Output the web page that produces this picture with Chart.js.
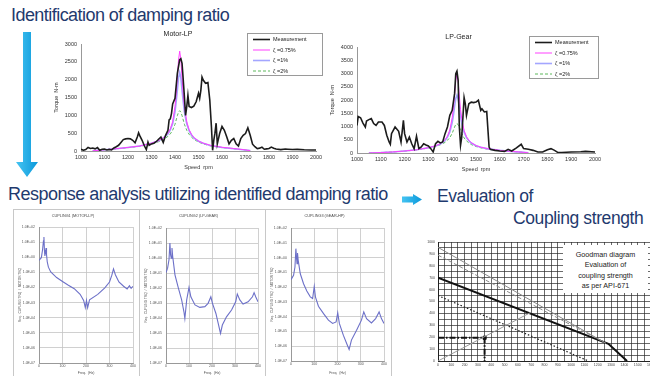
<!DOCTYPE html>
<html><head><meta charset="utf-8">
<script src="https://cdn.jsdelivr.net/npm/chart.js@4.4.1/dist/chart.umd.min.js"></script>
<style>
html,body{margin:0;padding:0;background:#fff;width:650px;height:376px;overflow:hidden;position:relative;font-family:"Liberation Sans",Arial,sans-serif;}
.h{position:absolute;color:#1F3A6E;white-space:nowrap;line-height:1;}
.panel{position:absolute;border:1px solid #c8c8c8;box-sizing:border-box;}
canvas{position:absolute;}
#gmtext{position:absolute;left:563px;top:245px;width:85px;height:48px;background:#fff;font-size:7.2px;line-height:10.3px;color:#222;text-align:center;padding-top:5px;box-sizing:border-box;}
</style></head><body>

<div class="h" style="left:11px;top:5.5px;font-size:18px;letter-spacing:-0.55px;">Identification of damping ratio</div>
<div class="h" style="left:8px;top:185px;font-size:18px;letter-spacing:-0.53px;">Response analysis utilizing identified damping ratio</div>
<div class="h" style="left:437px;top:188px;font-size:17.5px;letter-spacing:-0.4px;">Evaluation of</div>
<div class="h" style="left:513px;top:209.5px;font-size:17.5px;letter-spacing:-0.4px;">Coupling strength</div>

<svg style="position:absolute;left:0;top:0" width="650" height="376">
  <defs>
    <linearGradient id="gv" x1="0" y1="0" x2="1" y2="0">
      <stop offset="0" stop-color="#45c4f2"/><stop offset="1" stop-color="#0b98da"/>
    </linearGradient>
  </defs>
  <polygon points="23,32 31,32 31,162 38,162 27,177 16,162 23,162" fill="url(#gv)"/>
  <polygon points="402,196.5 413,196.5 413,194 422,199.5 413,205 413,202.5 402,202.5" fill="url(#gv)"/>
</svg>

<div class="panel" style="left:13px;top:209px;width:127px;height:170px;"></div>
<div class="panel" style="left:139px;top:209px;width:127px;height:170px;"></div>
<div class="panel" style="left:265px;top:209px;width:127px;height:170px;"></div>

<canvas id="c1" width="288" height="148" style="left:40px;top:28px"></canvas>
<canvas id="c2" width="285" height="147" style="left:322px;top:31px"></canvas>
<canvas id="r1" width="125" height="167" style="left:13px;top:209px"></canvas>
<canvas id="r2" width="126" height="167" style="left:139px;top:209px"></canvas>
<canvas id="r3" width="126" height="167" style="left:265px;top:209px"></canvas>
<canvas id="gm" width="240" height="144" style="left:420px;top:232px"></canvas>
<div id="gmtext">Goodman diagram<br>Evaluation of<br>coupling strength<br>as per API-671</div>

<script>
// ---------- DATA ----------
const motorSpeed = [1000,1010,1020,1030,1040,1050,1060,1070,1080,1090,1100,1110,1120,1130,1140,1150,1160,1170,1180,1190,1200,1210,1220,1230,1240,1245,1250,1260,1270,1278,1285,1290,1300,1310,1320,1330,1340,1350,1360,1370,1375,1380,1385,1390,1400,1410,1420,1425,1430,1435,1440,1445,1450,1455,1460,1470,1480,1490,1500,1505,1510,1515,1520,1530,1540,1548,1555,1560,1565,1570,1575,1580,1590,1600,1610,1620,1630,1640,1650,1660,1670,1680,1690,1700,1710,1720,1730,1740,1750,1760,1770,1780,1790,1800,1810,1820,1830,1850,1870,1880,1900,1920,1950,1980,2000];
const motorTorque = [50,20,40,100,70,85,60,95,20,50,55,30,45,30,85,120,160,240,320,340,350,340,300,230,400,510,430,300,140,40,250,160,200,220,260,330,390,240,440,580,870,900,1050,1320,1480,2180,2560,2590,2460,2000,1520,1000,1240,1560,1250,1220,1260,1380,1620,1480,1700,2070,1990,1900,1920,1430,680,20,300,500,780,200,490,690,580,400,200,300,350,200,140,350,440,490,650,440,190,120,65,80,110,50,60,70,110,80,55,40,55,50,40,45,35,30,30];

const gearSpeed = [1000,1005,1015,1025,1035,1040,1050,1060,1070,1080,1090,1105,1115,1125,1135,1140,1145,1160,1175,1185,1195,1200,1210,1220,1230,1240,1250,1260,1270,1280,1290,1300,1310,1320,1330,1340,1350,1360,1370,1380,1390,1400,1410,1415,1420,1425,1430,1435,1440,1450,1455,1460,1470,1480,1490,1500,1510,1520,1525,1535,1545,1555,1560,1580,1600,1620,1635,1650,1670,1690,1700,1720,1740,1760,1780,1800,1815,1830,1845,1860,1900,1940,1960,2000];
const gearTorque = [1040,1380,1330,1130,980,1210,1260,1300,1110,1040,1170,1170,1040,670,415,330,730,980,820,415,1230,730,415,600,350,165,630,165,225,350,300,265,165,40,350,440,380,415,730,980,1420,1610,2240,2990,3090,2740,980,290,600,2090,1860,1420,1860,1920,1900,1920,1990,1610,1670,1550,1570,225,140,100,75,60,140,75,190,330,165,140,100,40,40,125,165,100,15,20,40,50,60,40];

const zetaSpeed = [1050,1100,1150,1200,1250,1300,1330,1350,1370,1380,1390,1400,1405,1410,1415,1420,1425,1430,1435,1440,1450,1460,1470,1480,1500,1520,1550,1600,1650,1700,1720];
const motorZeta075 = [5,35,65,100,140,220,290,370,500,620,820,1250,1600,2050,2550,2800,2550,2050,1600,1250,820,600,470,380,280,220,160,105,70,30,10];
const motorZeta1   = [5,35,65,100,140,215,285,360,480,590,760,1100,1380,1700,2050,2200,2050,1700,1380,1100,760,570,450,370,275,215,155,100,65,30,10];
const motorZeta2   = [5,30,60,95,130,200,260,320,410,480,580,750,870,990,1090,1130,1090,990,870,750,580,470,390,330,250,200,145,95,60,28,10];
const gearZeta075  = [0,15,40,75,120,200,270,350,500,640,870,1330,1700,2200,2750,2970,2700,2150,1650,1300,850,620,480,390,280,220,160,100,60,25,5];
const gearZeta1    = [0,15,40,75,120,195,265,340,470,600,790,1150,1420,1760,2060,2180,2040,1730,1400,1120,780,580,460,375,275,215,155,98,58,25,5];
const gearZeta2    = [0,14,38,72,115,185,250,310,400,480,580,740,860,980,1080,1110,1070,970,860,740,570,460,380,320,245,195,140,90,55,24,5];
const seriesLabels = ['Measurement','ζ =0.75%','ζ =1%','ζ =2%'];

const resp1Freq = [0,10,15,19,21,23,25,28,30,32,35,40,50,75,100,125,150,175,190,197,202,207,215,250,280,300,310,317,325,340,360,375,385,392,400];
const resp1Val  = [0.62,0.93,3,12,21.8,3,1.2,2.2,4.1,1.5,0.5,0.22,0.105,0.045,0.025,0.014,0.0083,0.0035,0.0014,0.00046,0.0014,0.00046,0.0015,0.0035,0.0095,0.023,0.065,0.17,0.07,0.023,0.012,0.008,0.013,0.0086,0.012];
const resp2Freq = [0,7,13,17,20,23,26,29,39,53,68,78,82,90,100,108,126,147,169,183,195,202,217,227,237,245,263,285,303,310,321,335,357,376,383,390,400];
const resp2Val  = [0.107,0.21,0.76,10,1.6,0.98,4.6,1.3,0.075,0.011,0.0016,0.00026,0.000093,0.0016,0.011,0.0026,0.00074,0.00051,0.00057,0.00095,0.0026,0.00095,0.0002,0.000043,0.0000093,0.000034,0.00012,0.00034,0.0012,0.004,0.0016,0.00085,0.0012,0.0026,0.0049,0.0026,0.0012];
const resp3Freq = [0,11,17,21,24,26,28,31,40,54,68,83,93,100,105,118,140,161,179,194,201,208,225,242,250,260,282,303,313,325,346,364,379,389,400];
const resp3Val  = [0.032,0.063,0.23,4,0.85,0.39,2,0.65,0.08,0.017,0.0055,0.0022,0.0017,0.011,0.0022,0.00051,0.00016,0.000058,0.000035,0.000044,0.00018,0.000035,0.0000056,0.0000012,0.0000006,0.0000026,0.000012,0.000058,0.00021,0.000074,0.000038,0.000074,0.00021,0.000074,0.000035];
const respTitles = ['CUPLING1 (MOTOR-LP)','CUPLING2 (LP-GEAR)','CUPLING3 (GEAR-HP)'];
const decadeTicks = [1e-7,1e-6,1e-5,1e-4,1e-3,1e-2,1e-1,1e0,1e1,1e2];

const gmAllowX = [0,1280,1420],  gmAllowY = [700,145,0];
const gmUpperX = [0,1260],       gmUpperY = [955,150];
const gmUpper2X = [0,1260],      gmUpper2Y = [890,150];
const gmLowerX = [0,1130],       gmLowerY = [550,0];
const gmLoadX  = [0,700],        gmLoadY  = [0,410];
const gmOperX  = [0,350,350],    gmOperY  = [195,195,0];
const gmPointX = [350],          gmPointY = [195];

// ---------- HELPERS ----------
Chart.defaults.font.family = '"Liberation Sans", Arial, sans-serif';
const pts = (xs, ys) => xs.map((x, i) => ({x, y: ys[i]}));
const plain = v => String(v);

const boxLegend = {
  id: 'boxLegend',
  afterDraw(chart, args, o) {
    if (!o || !o.box) return;
    const ctx = chart.ctx, b = o.box;
    ctx.save();
    ctx.fillStyle = '#fff'; ctx.fillRect(b.x, b.y, b.w, b.h);
    ctx.strokeStyle = '#9a9a9a'; ctx.lineWidth = 1; ctx.strokeRect(b.x + 0.5, b.y + 0.5, b.w, b.h);
    ctx.font = o.fontSize + 'px "Liberation Sans", Arial';
    ctx.textBaseline = 'middle';
    chart.data.datasets.forEach((ds, i) => {
      const y = b.y + o.top + i * o.gap;
      ctx.strokeStyle = ds.borderColor; ctx.lineWidth = ds.borderWidth;
      ctx.setLineDash(ds.borderDash || []);
      ctx.beginPath(); ctx.moveTo(b.x + o.lx0, y); ctx.lineTo(b.x + o.lx1, y); ctx.stroke();
      ctx.setLineDash([]);
      ctx.fillStyle = '#222';
      ctx.fillText(ds.label, b.x + o.tx, y);
    });
    ctx.restore();
  }
};

function topChart(id, title, mx, my, z1, z2, z3, yMax, yW, yTitlePad, box) {
  new Chart(document.getElementById(id), {
    type: 'line',
    data: { datasets: [
      {label: seriesLabels[0], data: pts(mx, my), borderColor: '#1c1c1c', borderWidth: 1.6},
      {label: seriesLabels[1], data: pts(zetaSpeed, z1), borderColor: '#ff40ff', borderWidth: 1},
      {label: seriesLabels[2], data: pts(zetaSpeed, z2), borderColor: '#a3a6ff', borderWidth: 1.6},
      {label: seriesLabels[3], data: pts(zetaSpeed, z3), borderColor: '#5cb85c', borderWidth: 1, borderDash: [3, 2]}
    ]},
    options: {
      responsive: false, animation: false,
      elements: {point: {radius: 0}, line: {tension: 0}},
      layout: {padding: {left: 0, right: 12, top: 0, bottom: 0}},
      plugins: {
        legend: {display: false}, tooltip: {enabled: false},
        title: {display: true, text: title, font: {size: 7, weight: 'normal'}, color: '#222', padding: {top: 2, bottom: 5.6}},
        boxLegend: {box: box, fontSize: 5.5, top: 6.5, gap: 10.5, lx0: 6, lx1: 23, tx: 26}
      },
      scales: {
        x: {type: 'linear', min: 1000, max: 2000,
            ticks: {stepSize: 100, font: {size: 5.5}, color: '#333', maxRotation: 0, autoSkip: false, padding: 3, callback: plain},
            grid: {display: false, drawTicks: false}, border: {display: true, color: '#999'},
            title: {display: true, text: 'Speed  rpm', font: {size: 5.5}, color: '#333', padding: {top: 0, bottom: 5.4}},
            afterFit: s => { s.height = 25; }},
        y: {type: 'linear', min: 0, max: yMax,
            ticks: {stepSize: 500, font: {size: 5.5}, color: '#333', padding: 4, callback: plain},
            grid: {display: false, drawTicks: false}, border: {display: true, color: '#999'},
            title: {display: true, text: 'Torque  N-m', font: {size: 5.5}, color: '#333', padding: {top: yTitlePad, bottom: 0}},
            afterFit: s => { s.width = yW; }}
      }
    },
    plugins: [boxLegend]
  });
}

const fmtE = v => { const e = Math.round(Math.log10(v)); return '1.0E' + (e < 0 ? '-' : '+') + String(Math.abs(e)).padStart(2, '0'); };

function respChart(id, title, xs, ys, yW, padR, xH, tPadB) {
  new Chart(document.getElementById(id), {
    type: 'line',
    data: { datasets: [{data: pts(xs, ys), borderColor: '#6c70c8', borderWidth: 1.1}] },
    options: {
      responsive: false, animation: false,
      elements: {point: {radius: 0}, line: {tension: 0}},
      layout: {padding: {left: 0, right: padR, top: 0, bottom: 0}},
      plugins: {
        legend: {display: false}, tooltip: {enabled: false},
        title: {display: true, text: title, font: {size: 3.8, weight: 'normal'}, color: '#444', padding: {top: 4.7, bottom: tPadB}}
      },
      scales: {
        x: {type: 'linear', min: 0, max: 400,
            ticks: {stepSize: 100, font: {size: 3.5}, color: '#555', maxRotation: 0, autoSkip: false, padding: 1, callback: plain},
            grid: {color: '#c4c4c4', lineWidth: 0.8, drawTicks: false}, border: {display: true, color: '#999'},
            title: {display: true, text: 'Freq.  (Hz)', font: {size: 3.5}, color: '#555', padding: {top: 0, bottom: 1}},
            afterFit: s => { s.height = xH; }},
        y: {type: 'logarithmic', min: 1e-7, max: 1e2,
            afterBuildTicks: s => { s.ticks = decadeTicks.map(v => ({value: v})); },
            ticks: {font: {size: 3.5}, color: '#555', padding: 4, autoSkip: false, callback: v => fmtE(v)},
            grid: {color: '#c4c4c4', lineWidth: 0.8, drawTicks: false}, border: {display: true, color: '#999'},
            title: {display: true, text: 'Req.  CUPLING TRQ  /  MOTOR TRQ', font: {size: 3.2}, color: '#555', padding: {top: 4.9, bottom: 0}},
            afterFit: s => { s.width = yW; }}
      }
    }
  });
}

// ---------- CHARTS ----------
topChart('c1', 'Motor-LP', motorSpeed, motorTorque, motorZeta075, motorZeta1, motorZeta2, 3000, 41, 12.7, {x: 207, y: 5, w: 75, h: 42});
topChart('c2', 'LP-Gear', gearSpeed, gearTorque, gearZeta075, gearZeta1, gearZeta2, 4000, 35, 6.7, {x: 207, y: 5, w: 69, h: 42});

respChart('r1', respTitles[0], resp1Freq, resp1Val, 26, 5, 13, 8.74);
respChart('r2', respTitles[1], resp2Freq, resp2Val, 27, 7, 13, 9.74);
respChart('r3', respTitles[2], resp3Freq, resp3Val, 26, 7, 15, 9.74);

new Chart(document.getElementById('gm'), {
  type: 'scatter',
  data: { datasets: [
    {data: pts(gmUpperX, gmUpperY), showLine: true, borderColor: '#8a8a8a', borderWidth: 1, pointRadius: 0},
    {data: pts(gmUpper2X, gmUpper2Y), showLine: true, borderColor: '#8a8a8a', borderWidth: 1, borderDash: [4, 2], pointRadius: 0},
    {data: pts(gmLoadX, gmLoadY), showLine: true, borderColor: '#9a9a9a', borderWidth: 1, pointRadius: 0},
    {data: pts(gmLowerX, gmLowerY), showLine: true, borderColor: '#222', borderWidth: 1.2, borderDash: [1.5, 2], pointRadius: 0},
    {data: pts(gmAllowX, gmAllowY), showLine: true, borderColor: '#111', borderWidth: 2, pointRadius: 0},
    {data: pts(gmOperX, gmOperY), showLine: true, borderColor: '#111', borderWidth: 2, borderDash: [6, 2, 1.5, 2], pointRadius: 0},
    {data: pts(gmPointX, gmPointY), showLine: false, pointStyle: 'rect', pointRadius: 2.2, backgroundColor: '#111', borderColor: '#111'}
  ]},
  options: {
    responsive: false, animation: false,
    layout: {padding: {left: 0, right: 9, top: 10, bottom: 0}},
    plugins: {legend: {display: false}, tooltip: {enabled: false}},
    scales: {
      x: {type: 'linear', min: 0, max: 1600,
          ticks: {stepSize: 50, font: {size: 3.5}, color: '#444', maxRotation: 0, autoSkip: false, padding: 2,
                  callback: v => (v % 100 === 0 ? String(v) : '')},
          grid: {color: '#2a2a2a', lineWidth: 0.7, drawTicks: false}, border: {display: true, color: '#222'},
          afterFit: s => { s.height = 15; }},
      y: {type: 'linear', min: 0, max: 1000,
          ticks: {stepSize: 50, font: {size: 3.5}, color: '#444', autoSkip: false, padding: 3,
                  callback: v => (v % 100 === 0 ? String(v) : '')},
          grid: {color: '#2a2a2a', lineWidth: 0.7, drawTicks: false}, border: {display: true, color: '#222'},
          afterFit: s => { s.width = 18; }}
    }
  }
});
</script>
</body></html>
